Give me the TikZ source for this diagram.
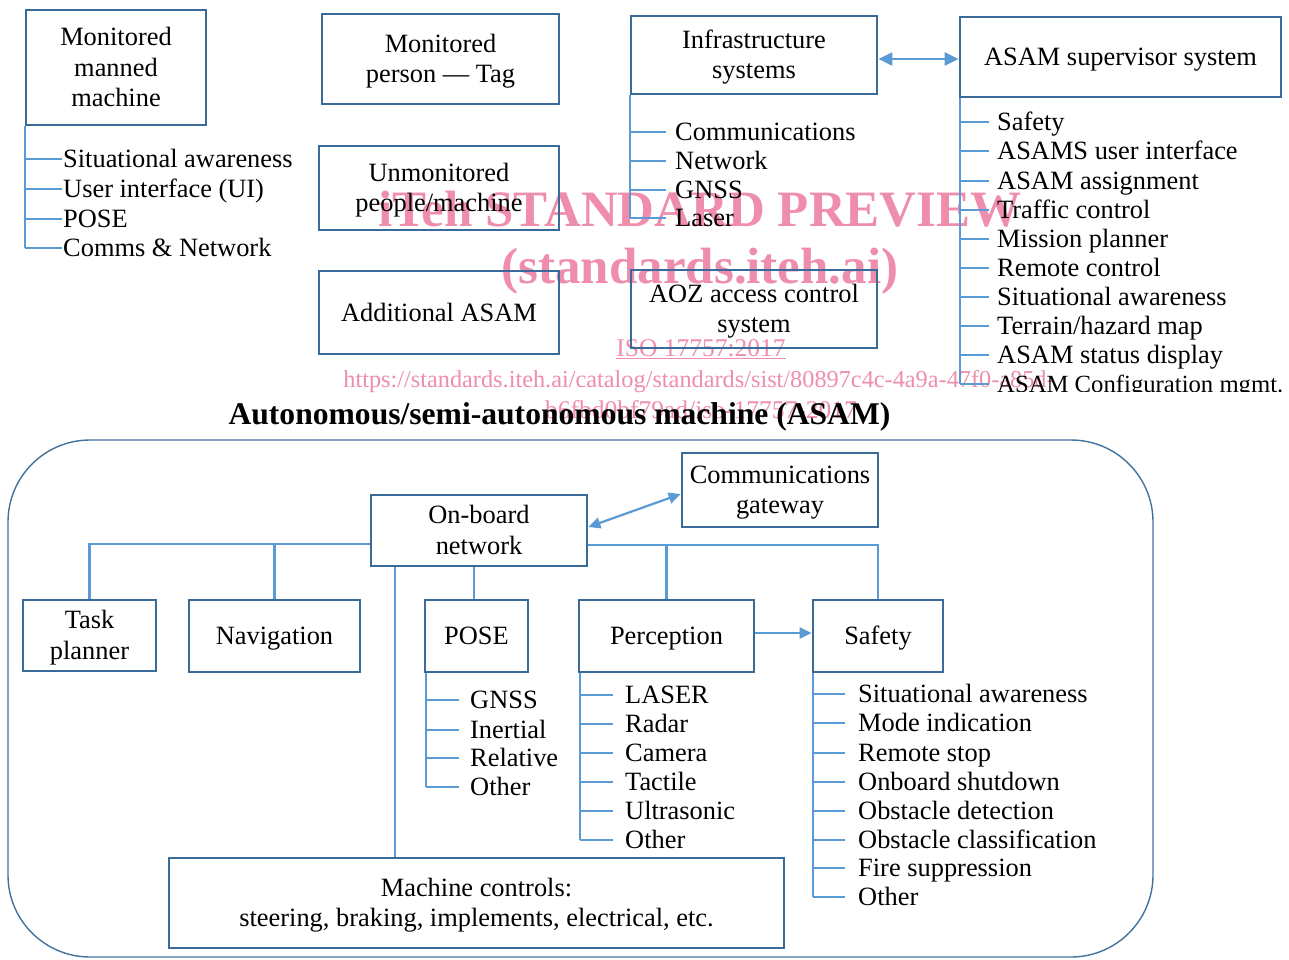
\documentclass[tikz,border=0pt]{standalone}
\usepackage{fontspec}
\setmainfont{Liberation Serif}
\usetikzlibrary{arrows.meta}
\definecolor{boxblue}{RGB}{58,106,152}
\definecolor{linkblue}{RGB}{91,155,213}
\definecolor{framblue}{RGB}{66,114,158}
\definecolor{wmpink}{RGB}{236,122,158}
\newcommand{\bodyfont}{\fontsize{26.4}{30.5}\selectfont}
\newcommand{\bs}{\rule[-6pt]{0pt}{29.4pt}}
\begin{document}
\begin{tikzpicture}[x=1pt,y=-1pt,
  box/.style={draw=boxblue, line width=2.8pt, align=center, inner sep=0pt, font=\bodyfont},
  conn/.style={draw=linkblue, line width=2.2pt},
  item/.style={anchor=west, inner sep=0pt, text height=17pt, text depth=0pt, font=\bodyfont},
  wm/.style={text=wmpink, inner sep=0pt, anchor=base, opacity=0.85}
]
\useasboundingbox (0,0) rectangle (1289,959);
\fill[white] (0,0) rectangle (1289,959);

% ---------- watermark (behind) ----------
\node[wm, font=\fontsize{51}{56}\selectfont\bfseries] (wm1) at (700,226) {iTeh STANDARD PREVIEW};
\node[wm, font=\fontsize{51}{56}\selectfont\bfseries] (wm2) at (700,283) {(standards.iteh.ai)};
\node[wm, font=\fontsize{25.5}{28}\selectfont] (wm3) at (701,356) {\underline{ISO 17757:2017}};
\node[wm, font=\fontsize{24.3}{28}\selectfont] (wm4) at (699,387) {https://standards.iteh.ai/catalog/standards/sist/80897c4c-4a9a-47f0-a85d-};
\node[wm, font=\fontsize{25.5}{28}\selectfont] (wm5) at (701,418) {b6fbd0bf79ad/iso-17757-2017};

% ---------- top part ----------
\node[box, minimum width=180pt, minimum height=115pt] (mmm) at (116,67.5) {\bs Monitored\\\bs manned\\\bs machine};
\node[box, minimum width=237pt, minimum height=90pt] (mpt) at (440.5,59) {\bs Monitored\\\bs person --- Tag};
\node[box, minimum width=240pt, minimum height=84pt] (upm) at (439,188) {\bs Unmonitored\\\bs people/machine};
\node[box, minimum width=240pt, minimum height=83pt] (aasam) at (439,312.5) {\bs Additional ASAM};
\node[box, minimum width=246pt, minimum height=78pt] (infra) at (754,55) {\bs Infrastructure\\\bs systems};
\node[box, minimum width=321pt, minimum height=80pt] (asams) at (1120.5,57) {\bs ASAM supervisor system};
\node[box, minimum width=246pt, minimum height=78pt] (aoz) at (754,309) {\bs AOZ access control\\\bs system};

\draw[conn, {Triangle[length=14pt,width=13pt]}-{Triangle[length=14pt,width=13pt]}] ([yshift=-4pt]infra.east) -- ([yshift=-4pt]infra.east -| asams.west);

% monitored manned machine tree
\foreach \t/\y [count=\i] in {Situational awareness/159, User interface (UI)/189, POSE/219, Comms \& Network/248}{
  \node[item] (mm\i) at (63,\y) {\t};
  \draw[conn] (mmm.south west |- mm\i.west) -- ([xshift=-1pt]mm\i.west);
}
\draw[conn] (mmm.south west) -- (mmm.south west |- mm4.west);

% infrastructure tree
\foreach \t/\y [count=\i] in {Communications/132, Network/161, GNSS/190, Laser/218}{
  \node[item] (in\i) at (675,\y) {\t};
  \draw[conn] (infra.south west |- in\i.west) -- ([xshift=-9pt]in\i.west);
}
\draw[conn] (infra.south west) -- (infra.south west |- in4.west);

% ASAM supervisor tree
\foreach \t/\y [count=\i] in {Safety/122, ASAMS user interface/151, ASAM assignment/181, Traffic control/210, Mission planner/239, Remote control/268, Situational awareness/297, {Terrain/hazard map}/326, ASAM status display/355}{
  \node[item] (as\i) at (997,\y) {\t};
  \draw[conn] ([xshift=1pt]asams.south west |- as\i.west) -- ([xshift=-8pt]as\i.west);
}
\begin{scope}
  \clip (950,0) rectangle (1289,391);
  \node[item, font=\fontsize{24.7}{30}\selectfont] (as10) at (997,384) {ASAM Configuration mgmt.};
\end{scope}
\draw[conn] ([xshift=1pt]asams.south west |- as10.west) -- ([xshift=-8pt]as10.west);
\draw[conn] ([xshift=1pt]asams.south west) -- ([xshift=1pt]asams.south west |- as10.west);

% ---------- title ----------
\node[anchor=base, inner sep=0pt, font=\fontsize{31.6}{36}\selectfont\bfseries] (title) at (559.5,424) {Autonomous/semi-autonomous machine (ASAM)};

% ---------- machine frame ----------
\draw[framblue, line width=1.4pt, rounded corners=82pt] (8,440) rectangle (1153,957);

\node[box, minimum width=196pt, minimum height=74pt] (comgw) at (780,490) {\bs Communications\\\bs gateway};
\node[box, minimum width=216pt, minimum height=71pt] (obn) at (479,530.5) {\bs On-board\\\bs network};
\node[box, minimum width=133pt, minimum height=71pt] (task) at (89.5,635.5) {\bs Task\\\bs planner};
\node[box, minimum width=171pt, minimum height=72pt] (nav) at (274.5,636) {\bs Navigation};
\node[box, minimum width=103pt, minimum height=72pt] (pose) at (476.5,636) {\bs POSE};
\node[box, minimum width=175pt, minimum height=72pt] (perc) at (666.5,636) {\bs Perception};
\node[box, minimum width=130pt, minimum height=72pt] (safety) at (878,636) {\bs Safety};
\node[box, minimum width=615pt, minimum height=90pt] (mctl) at (476.5,903) {\bs Machine controls:\\\bs steering, braking, implements, electrical, etc.};

% network buses
\coordinate (bL) at ([yshift=-13.5pt]obn.west);
\coordinate (bR) at ([yshift=-14.5pt]obn.east);
\draw[conn] (bL) -| (task.north);
\draw[conn] (nav.north) -- (nav.north |- bL);
\draw[conn] (bR) -| (safety.north);
\draw[conn] (perc.north) -- (perc.north |- bR);
\draw[conn] ([xshift=-2.5pt]pose.north) -- ([xshift=-2.5pt]pose.north |- obn.south);
\draw[conn] ([xshift=-81.5pt]mctl.north) -- ([xshift=-81.5pt]mctl.north |- obn.south);

\draw[conn, {Triangle[length=12pt,width=11pt]}-{Triangle[length=12pt,width=11pt]}] ([yshift=3.5pt]obn.east) -- ([yshift=-4pt]comgw.west);
\draw[conn, -{Triangle[length=12pt,width=11pt]}] ([yshift=3pt]perc.east) -- ([yshift=3pt]perc.east -| safety.west);

% POSE tree
\foreach \t/\y [count=\i] in {GNSS/700, Inertial/730, Relative/758, Other/787}{
  \node[item] (po\i) at (470,\y) {\t};
  \draw[conn] ([xshift=2pt]pose.south west |- po\i.west) -- ([xshift=-11pt]po\i.west);
}
\draw[conn] ([xshift=2pt]pose.south west) -- ([xshift=2pt]pose.south west |- po4.west);

% Perception tree
\foreach \t/\y [count=\i] in {LASER/695, Radar/724, Camera/753, Tactile/782, Ultrasonic/811, Other/840}{
  \node[item] (pe\i) at (625,\y) {\t};
  \draw[conn] ([xshift=2pt]perc.south west |- pe\i.west) -- ([xshift=-12pt]pe\i.west);
}
\draw[conn] ([xshift=2pt]perc.south west) -- ([xshift=2pt]perc.south west |- pe6.west);

% Safety tree
\foreach \t/\y [count=\i] in {Situational awareness/694, Mode indication/723, Remote stop/753, Onboard shutdown/782, Obstacle detection/811, Obstacle classification/840, Fire suppression/868, Other/897}{
  \node[item] (sa\i) at (858,\y) {\t};
  \draw[conn] ([xshift=1pt]safety.south west |- sa\i.west) -- ([xshift=-13pt]sa\i.west);
}
\draw[conn] ([xshift=1pt]safety.south west) -- ([xshift=1pt]safety.south west |- sa8.west);
\end{tikzpicture}
\end{document}
